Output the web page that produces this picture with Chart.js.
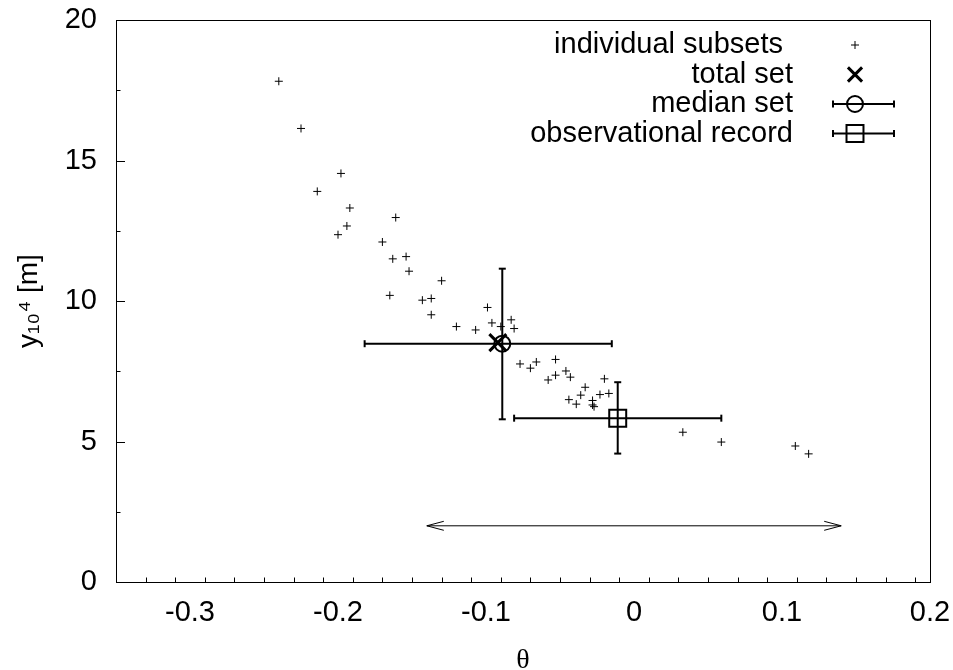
<!DOCTYPE html>
<html lang="en">
<head>
    <meta charset="UTF-8">
    <title>theta vs y10^4</title>
    <script src="https://cdn.jsdelivr.net/npm/chart.js"></script>
    <style>
        body { margin: 0; background: #fff; }
    </style>
</head>
<body>
    <canvas id="myChart" width="953" height="670"></canvas>
    <script>
        // individual subsets: theta and y10^4 [m]
        const subsetTheta = [-0.240, -0.225, -0.198, -0.214, -0.192, -0.161, -0.194, -0.200, -0.170, -0.163,
                             -0.154, -0.152, -0.130, -0.165, -0.143, -0.137, -0.137, -0.120, -0.107, -0.099,
                             -0.096, -0.090, -0.083, -0.081, -0.077, -0.070, -0.066, -0.053, -0.058, -0.053,
                             -0.046, -0.043, -0.020, -0.033, -0.036, -0.044, -0.039, -0.028, -0.028, -0.027,
                             -0.023, -0.017, 0.033, 0.059, 0.109, 0.118];
        const subsetY = [17.82, 16.14, 14.54, 13.90, 13.31, 12.97, 12.67, 12.36, 12.10, 11.50,
                         11.58, 11.06, 10.72, 10.20, 10.03, 10.09, 9.51, 9.09, 8.97, 9.77,
                         9.22, 9.09, 9.33, 9.02, 7.76, 7.61, 7.83, 7.92, 7.19, 7.36,
                         7.51, 7.29, 7.23, 6.93, 6.65, 6.49, 6.33, 6.46, 6.30, 6.24,
                         6.67, 6.71, 5.33, 4.98, 4.84, 4.56];

        // total set (theta, y)
        const totalSet = [-0.092, 8.52];

        // median set with error ranges
        const medianSet = [-0.089, 8.48];
        const medianThetaRange = [-0.182, -0.015];
        const medianYRange = [5.79, 11.15];

        // observational record with error ranges
        const obsRecord = [-0.011, 5.83];
        const obsThetaRange = [-0.081, 0.059];
        const obsYRange = [4.57, 7.11];

        // double arrow
        const arrowTheta = [-0.14, 0.14];
        const arrowY = 2;

        // axes
        const xRange = [-0.35, 0.2];
        const yRange = [0, 20];
        const xTicks = [-0.3, -0.2, -0.1, 0, 0.1, 0.2];
        const yTicks = [0, 5, 10, 15, 20];
        const xMinorStep = 0.02;
        const yMinorStep = 2.5;

        const legendLabels = ['individual subsets', 'total set', 'median set', 'observational record'];

        const black = '#000';
        const font = 'Liberation Sans, Arial, Helvetica, sans-serif';

        function errorBar(a, b, rotation) {
            return {
                data: [a, b],
                showLine: true,
                borderColor: black,
                borderWidth: 2,
                pointStyle: 'line',
                pointRadius: 3.5,
                pointHoverRadius: 3.5,
                pointRotation: rotation,
                pointBorderColor: black,
                pointBorderWidth: 2,
            };
        }

        const datasets = [
            {
                label: legendLabels[0],
                data: subsetTheta.map((t, i) => ({ x: t, y: subsetY[i] })),
                pointStyle: 'cross',
                pointRadius: 4,
                pointHoverRadius: 4,
                pointBorderWidth: 1,
                pointBorderColor: black,
            },
            {
                label: legendLabels[1],
                data: [{ x: totalSet[0], y: totalSet[1] }],
                pointStyle: 'crossRot',
                pointRadius: 12,
                pointHoverRadius: 12,
                pointBorderWidth: 3,
                pointBorderColor: black,
            },
            {
                label: legendLabels[2],
                data: [{ x: medianSet[0], y: medianSet[1] }],
                pointStyle: 'circle',
                pointRadius: 8,
                pointHoverRadius: 8,
                pointBorderWidth: 2,
                pointBorderColor: black,
                pointBackgroundColor: 'rgba(0,0,0,0)',
            },
            errorBar({ x: medianThetaRange[0], y: medianSet[1] }, { x: medianThetaRange[1], y: medianSet[1] }, 90),
            errorBar({ x: medianSet[0], y: medianYRange[0] }, { x: medianSet[0], y: medianYRange[1] }, 0),
            {
                label: legendLabels[3],
                data: [{ x: obsRecord[0], y: obsRecord[1] }],
                pointStyle: 'rect',
                pointRadius: 12,
                pointHoverRadius: 12,
                pointBorderWidth: 2,
                pointBorderColor: black,
                pointBackgroundColor: 'rgba(0,0,0,0)',
            },
            errorBar({ x: obsThetaRange[0], y: obsRecord[1] }, { x: obsThetaRange[1], y: obsRecord[1] }, 90),
            errorBar({ x: obsRecord[0], y: obsYRange[0] }, { x: obsRecord[0], y: obsYRange[1] }, 0),
            {
                data: [{ x: arrowTheta[0], y: arrowY }, { x: arrowTheta[1], y: arrowY }],
                showLine: true,
                borderColor: black,
                borderWidth: 1,
                pointRadius: 0,
                pointHoverRadius: 0,
            },
        ];

        // frame, inward ticks, arrow heads and legend
        const framePlugin = {
            id: 'frame',
            afterDraw(chart) {
                const ctx = chart.ctx;
                const area = chart.chartArea;
                const xs = chart.scales.x;
                const ys = chart.scales.y;
                ctx.save();
                ctx.strokeStyle = black;
                ctx.lineWidth = 1;
                ctx.strokeRect(Math.round(area.left) + 0.5, Math.round(area.top) + 0.5,
                               Math.round(area.right - area.left), Math.round(area.bottom - area.top));

                ctx.beginPath();
                const nx = Math.round((xRange[1] - xRange[0]) / xMinorStep);
                for (let i = 1; i < nx; i++) {
                    const v = xRange[0] + i * xMinorStep;
                    const major = xTicks.some(t => Math.abs(t - v) < 1e-6);
                    const px = Math.round(xs.getPixelForValue(v)) + 0.5;
                    ctx.moveTo(px, area.bottom);
                    ctx.lineTo(px, area.bottom - (major ? 9 : 4.5));
                }
                const ny = Math.round((yRange[1] - yRange[0]) / yMinorStep);
                for (let i = 1; i <= ny; i++) {
                    const v = yRange[0] + i * yMinorStep;
                    const major = yTicks.some(t => Math.abs(t - v) < 1e-6);
                    const py = Math.round(ys.getPixelForValue(v)) + 0.5;
                    ctx.moveTo(area.left, py);
                    ctx.lineTo(area.left + (major ? 9 : 4.5), py);
                }
                ctx.stroke();

                // arrow heads
                const pts = chart.getDatasetMeta(datasets.length - 1).data;
                const a = pts[0], b = pts[1];
                ctx.beginPath();
                ctx.moveTo(a.x + 17, a.y - 4.5);
                ctx.lineTo(a.x, a.y);
                ctx.lineTo(a.x + 17, a.y + 4.5);
                ctx.moveTo(b.x - 17, b.y - 4.5);
                ctx.lineTo(b.x, b.y);
                ctx.lineTo(b.x - 17, b.y + 4.5);
                ctx.stroke();

                // legend
                const textRight = 793, sampleX = 855, top = 45, row = 29.5;
                ctx.font = '29px ' + font;
                ctx.fillStyle = black;
                ctx.textAlign = 'right';
                ctx.textBaseline = 'middle';
                legendLabels.forEach((lab, i) => ctx.fillText(lab, textRight - (i === 0 ? 10 : 0), top + i * row));

                const draw = (style, r, bw, rot, x, y) => {
                    ctx.lineWidth = bw;
                    ctx.fillStyle = 'rgba(0,0,0,0)';
                    Chart.helpers.drawPoint(ctx, { pointStyle: style, radius: r, rotation: rot, borderWidth: bw }, x, y);
                };
                draw('cross', 4, 1, 0, sampleX, top);
                draw('crossRot', 10, 3, 0, sampleX, top + row);
                [[2, 'circle', 8], [3, 'rect', 12]].forEach(([i, style, r]) => {
                    const y = top + i * row;
                    ctx.lineWidth = 2;
                    ctx.beginPath();
                    ctx.moveTo(833, y);
                    ctx.lineTo(894, y);
                    ctx.stroke();
                    draw('line', 3.5, 2, 90, 833, y);
                    draw('line', 3.5, 2, 90, 894, y);
                    draw(style, r, 2, 0, sampleX, y);
                });
                ctx.restore();
            }
        };

        const ctx = document.getElementById('myChart').getContext('2d');
        const myChart = new Chart(ctx, {
            type: 'scatter',
            data: { datasets: datasets },
            options: {
                responsive: false,
                animation: false,
                layout: { padding: { top: 20, right: 23, left: 0, bottom: 0 } },
                plugins: {
                    legend: { display: false },
                    tooltip: { enabled: false },
                },
                scales: {
                    x: {
                        type: 'linear',
                        min: xRange[0],
                        max: xRange[1],
                        afterBuildTicks: s => { s.ticks = xTicks.map(v => ({ value: v })); },
                        afterFit: s => { s.height = 88; s.paddingLeft = 0; s.paddingRight = 0; },
                        grid: { display: false, drawTicks: false },
                        border: { display: false },
                        ticks: {
                            autoSkip: false,
                            maxRotation: 0,
                            padding: 16,
                            color: black,
                            font: { family: font, size: 29, lineHeight: 1 },
                            callback: v => String(v),
                        },
                        title: {
                            display: true,
                            text: 'θ',
                            color: black,
                            font: { family: 'Liberation Serif, serif', size: 28, lineHeight: 1 },
                            padding: { top: 0, bottom: -5 },
                        },
                    },
                    y: {
                        type: 'linear',
                        min: yRange[0],
                        max: yRange[1],
                        afterBuildTicks: s => { s.ticks = yTicks.map(v => ({ value: v })); },
                        afterFit: s => { s.width = 116; s.paddingTop = 0; s.paddingBottom = 0; },
                        grid: { display: false, drawTicks: false },
                        border: { display: false },
                        ticks: {
                            autoSkip: false,
                            padding: 19,
                            color: black,
                            font: { family: font, size: 29, lineHeight: 1 },
                            callback: v => String(v),
                        },
                        title: {
                            display: true,
                            text: 'y₁₀⁴ [m]',
                            color: black,
                            font: { family: font, size: 28, lineHeight: 1 },
                            padding: { top: 15, bottom: 0 },
                        },
                    },
                },
            },
            plugins: [framePlugin],
        });
    </script>
</body>
</html>
